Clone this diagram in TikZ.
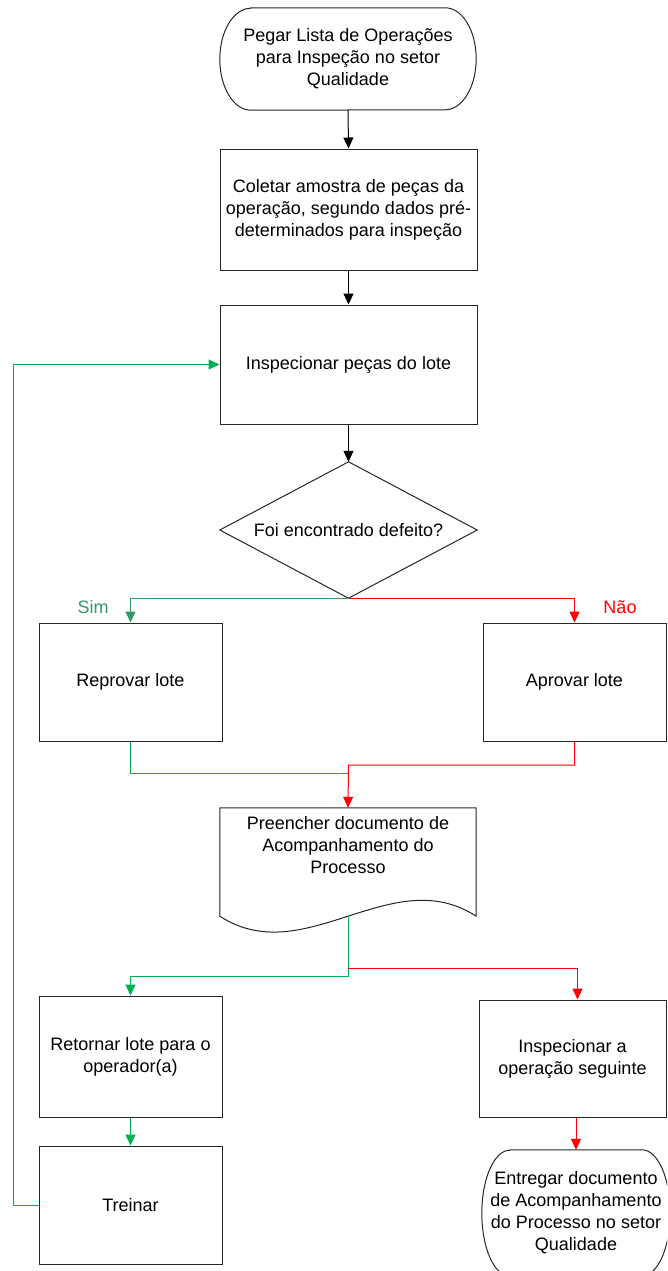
\documentclass[tikz,border=0pt]{standalone}
\usepackage{fontspec}
\setmainfont{Liberation Sans}
\usetikzlibrary{arrows.meta}
\definecolor{flowgreen}{RGB}{0,176,80}
\definecolor{simgreen}{RGB}{51,153,102}
\definecolor{flowred}{RGB}{255,0,0}
\begin{document}
\begin{tikzpicture}[x=1pt,y=-1pt,
  every node/.style={font=\fontsize{18}{22}\selectfont, align=center, inner sep=0pt},
  box/.style={draw=black!85, line width=1pt},
  shell/.style={draw=none},
  outline/.style={draw=black!85, line width=1pt},
  tip/.style={-{Triangle[length=11pt,width=10pt]}},
  flow/.style={line width=1pt, black},
  yes/.style={line width=1pt, flowgreen},
  yesfirst/.style={line width=1pt, simgreen},
  no/.style={line width=1pt, flowred}]
\useasboundingbox (0,0) rectangle (667,1271);
\clip (0,0) rectangle (667,1271);

% terminal: start
\node[shell, minimum width=256pt, minimum height=102pt] (start) at (348,59)
  {Pegar Lista de Operações\\para Inspeção no setor\\Qualidade};
\draw[outline] ([xshift=31pt]start.north west) -- ([xshift=-31pt]start.north east)
  arc[start angle=90, end angle=-90, x radius=31pt, y radius=51pt]
  -- ([xshift=31pt]start.south west)
  arc[start angle=270, end angle=90, x radius=31pt, y radius=51pt] -- cycle;

% process steps
\node[box, minimum width=257pt, minimum height=121pt] (collect) at (348.5,209.5)
  {Coletar amostra de peças da\\operação, segundo dados pré-\\determinados para inspeção};
\node[box, minimum width=257pt, minimum height=119pt] (inspect) at (348.5,364.5)
  {Inspecionar peças do lote};

% decision
\node[shell, minimum width=257pt, minimum height=136pt] (dec) at (348.5,530)
  {Foi encontrado defeito?};
\draw[outline] (dec.north) -- (dec.east) -- (dec.south) -- (dec.west) -- cycle;

\node[box, minimum width=183pt, minimum height=118pt] (rep) at (130.5,682) {Reprovar lote};
\node[box, minimum width=183pt, minimum height=118pt] (apr) at (574.5,682) {Aprovar lote};
\node[text=simgreen] (simlbl) at (93,607) {Sim};
\node[text=flowred] (naolbl) at (620,607) {Não};

% document
\node[shell, minimum width=256pt, minimum height=108pt] (doc) at (348,862) {};
\draw[outline] (doc.north west) -- (doc.north east) -- (doc.south east)
  .. controls ([xshift=-85pt,yshift=55pt]doc.south east)
  and ([xshift=85pt,yshift=-55pt]doc.south west) .. (doc.south west) -- cycle;
\node (doctext) at (348,845) {Preencher documento de\\Acompanhamento do\\Processo};

\node[box, minimum width=183pt, minimum height=121pt] (ret) at (130.5,1056.5)
  {Retornar lote para o\\operador(a)};
\node[box, minimum width=187pt, minimum height=117pt] (nxt) at (572.5,1058.5)
  {Inspecionar a\\operação seguinte};
\node[box, minimum width=183pt, minimum height=118pt] (trn) at (130.5,1205) {Treinar};

% terminal: end
\node[shell, minimum width=188pt, minimum height=126pt] (fin) at (576,1213)
  {Entregar documento\\de Acompanhamento\\do Processo no setor\\Qualidade};
\draw[outline] ([xshift=28pt]fin.north west) -- ([xshift=-28pt]fin.north east)
  arc[start angle=90, end angle=-90, x radius=28pt, y radius=63pt]
  -- ([xshift=28pt]fin.south west)
  arc[start angle=270, end angle=90, x radius=28pt, y radius=63pt] -- cycle;

% junction points
\coordinate (mergeG) at (348.5,773);
\coordinate (mergeR) at (348.5,765);
\coordinate (splitR) at (348,968);
\coordinate (splitG) at (348,976);

% connectors
\draw[flow, tip] (start.south) -- (collect.north);
\draw[flow, tip] (collect.south) -- (inspect.north);
\draw[flow, tip] (inspect.south) -- (dec.north);
\draw[yesfirst, tip] (dec.south) -| (rep.north);
\draw[no, tip] (dec.south) -| (apr.north);
\draw[yes] (rep.south) |- (mergeG);
\draw[no, tip] (apr.south) |- (mergeR) -- (doc.north);
\draw[yes, tip] (doc.south) -- (splitG) -| (ret.north);
\draw[no, tip] (splitR) -| ([xshift=5pt]nxt.north);
\draw[yes, tip] (ret.south) -- (trn.north);
\draw[yes, tip] (trn.west) -- ++(-25,0) |- (inspect.west);
\draw[no, tip] (nxt.south -| fin.north) -- (fin.north);
\end{tikzpicture}
\end{document}
